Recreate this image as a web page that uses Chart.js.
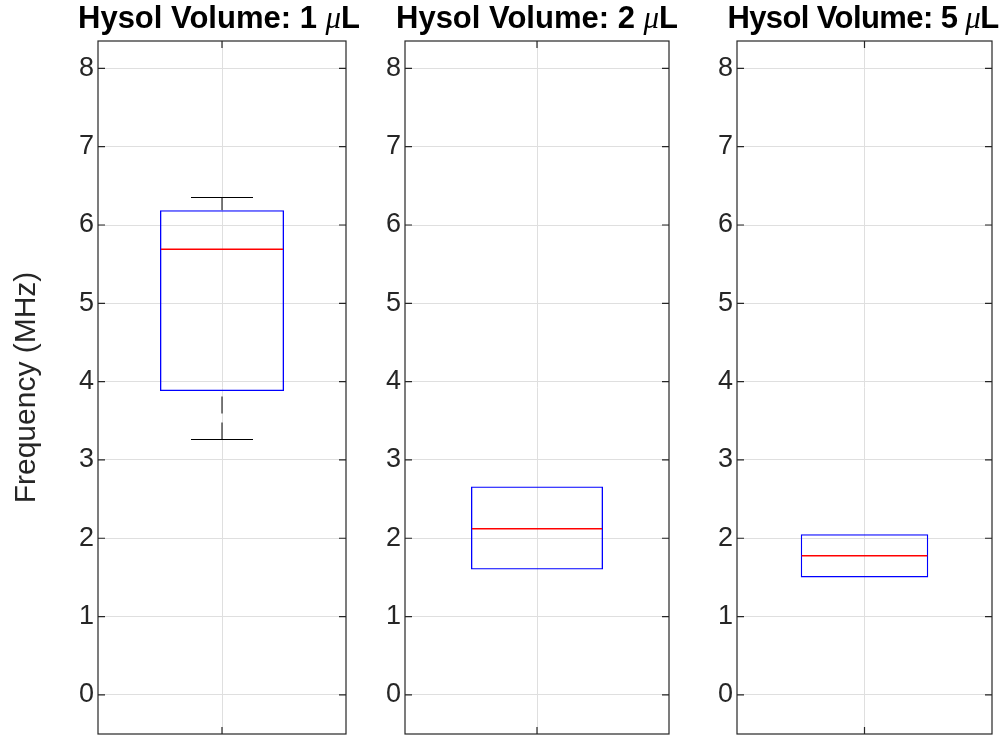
<!DOCTYPE html>
<html>
<head>
<meta charset="utf-8">
<script src="https://cdn.jsdelivr.net/npm/chart.js@4.4.1/dist/chart.umd.min.js"></script>
<style>
  body { margin: 0; background: #fff; width: 1007px; height: 738px; position: relative; overflow: hidden; font-family: Arial, "Liberation Sans", sans-serif; }
  canvas { position: absolute; top: 0; }
  .titulo { position: absolute; top: 2px; font-weight: bold; font-size: 31px; line-height: 31px; color: #000; white-space: nowrap; transform: translateX(-50%); }
  .titulo .mu { font-family: "Liberation Serif", serif; font-style: italic; font-weight: normal; }
</style>
</head>
<body>
<script>
// dados das caixas (MHz)
const volumes = ['1', '2', '5'];
const minimos = [3.27, 1.60, 1.50];
const quartil1 = [3.88, 1.60, 1.50];
const medianas = [5.69, 2.12, 1.775];
const quartil3 = [6.19, 2.66, 2.05];
const maximos = [6.36, 2.66, 2.05];
const yTicks = [0, 1, 2, 3, 4, 5, 6, 7, 8];
const yMin = -0.5;
const yMax = 8.35;

// posição de cada painel na página
const paineis = [
  { left: 0, eixo: 98, width: 352, centro: 219, espaco: 0 },
  { left: 365, eixo: 40, width: 310, centro: 537, espaco: 0 },
  { left: 697, eixo: 40, width: 301, centro: 863, espaco: -0.6 }
];

const corEixo = '#262626';
const corGrade = '#dfdfdf';
const fonte = 'Arial, "Liberation Sans", sans-serif';

// bigodes antes da caixa, mediana e moldura depois
const boxplot = {
  id: 'boxplot',
  beforeDatasetsDraw(chart, args, opts) {
    const i = opts.indice;
    const bar = chart.getDatasetMeta(0).data[0];
    const y = chart.scales.y;
    const ctx = chart.ctx;
    const meia = bar.width / 4;
    ctx.save();
    ctx.strokeStyle = '#000';
    ctx.lineWidth = 1;
    [[maximos[i], quartil3[i]], [minimos[i], quartil1[i]]].forEach(([ext, q]) => {
      if (ext === q) return;
      const yE = Math.round(y.getPixelForValue(ext)) + 0.5;
      const yQ = y.getPixelForValue(q);
      ctx.setLineDash([17, 9]);
      ctx.beginPath();
      ctx.moveTo(bar.x, yE);
      ctx.lineTo(bar.x, yQ);
      ctx.stroke();
      ctx.setLineDash([]);
      ctx.beginPath();
      ctx.moveTo(bar.x - meia, yE);
      ctx.lineTo(bar.x + meia, yE);
      ctx.stroke();
    });
    ctx.restore();
  },
  afterDatasetsDraw(chart, args, opts) {
    const i = opts.indice;
    const bar = chart.getDatasetMeta(0).data[0];
    const y = chart.scales.y;
    const ctx = chart.ctx;
    const yM = y.getPixelForValue(medianas[i]);
    ctx.save();
    ctx.strokeStyle = '#ff0000';
    ctx.lineWidth = 1.5;
    ctx.beginPath();
    ctx.moveTo(bar.x - bar.width / 2 + 1, yM);
    ctx.lineTo(bar.x + bar.width / 2 - 1, yM);
    ctx.stroke();
    ctx.restore();
  },
  afterDraw(chart) {
    const a = chart.chartArea;
    const ctx = chart.ctx;
    const y = chart.scales.y;
    const x = chart.scales.x;
    const tam = 7;
    ctx.save();
    ctx.strokeStyle = corEixo;
    ctx.lineWidth = 1.2;
    ctx.strokeRect(a.left, a.top, a.right - a.left, a.bottom - a.top);
    ctx.beginPath();
    yTicks.forEach(v => {
      const py = y.getPixelForValue(v);
      ctx.moveTo(a.left, py); ctx.lineTo(a.left + tam, py);
      ctx.moveTo(a.right, py); ctx.lineTo(a.right - tam, py);
    });
    const px = x.getPixelForValue(0);
    ctx.moveTo(px, a.top); ctx.lineTo(px, a.top + tam);
    ctx.moveTo(px, a.bottom); ctx.lineTo(px, a.bottom - tam);
    ctx.stroke();
    ctx.restore();
  }
};

paineis.forEach((p, i) => {
  const canvas = document.createElement('canvas');
  canvas.width = p.width;
  canvas.height = 738;
  canvas.style.left = p.left + 'px';
  document.body.appendChild(canvas);

  const titulo = document.createElement('div');
  titulo.className = 'titulo';
  titulo.style.left = p.centro + 'px';
  titulo.style.letterSpacing = p.espaco + 'px';
  titulo.innerHTML = 'Hysol Volume: ' + volumes[i] + ' <span class="mu">μ</span>L';
  document.body.appendChild(titulo);

  new Chart(canvas, {
    type: 'bar',
    data: {
      labels: [volumes[i]],
      datasets: [{
        data: [[quartil1[i], quartil3[i]]],
        backgroundColor: 'rgba(0,0,0,0)',
        borderColor: '#0000ff',
        borderWidth: 1.3,
        borderSkipped: false,
        barPercentage: 0.5,
        categoryPercentage: 1
      }]
    },
    options: {
      responsive: false,
      animation: false,
      layout: { padding: { top: 41, bottom: 4, right: 6, left: 0 } },
      plugins: {
        legend: { display: false },
        tooltip: { enabled: false },
        boxplot: { indice: i }
      },
      scales: {
        x: {
          grid: { offset: false, color: corGrade, drawTicks: false },
          border: { display: false },
          ticks: { display: false },
          afterFit: s => { s.height = 0; s.paddingLeft = 0; s.paddingRight = 0; }
        },
        y: {
          min: yMin,
          max: yMax,
          afterBuildTicks: s => { s.ticks = yTicks.map(v => ({ value: v })); },
          grid: { color: corGrade, drawTicks: false },
          border: { display: false },
          ticks: { font: { family: fonte, size: 27 }, color: corEixo, padding: 4 },
          title: {
            display: i === 0,
            text: 'Frequency (MHz)',
            font: { family: fonte, size: 30 },
            color: corEixo,
            padding: { top: 9, bottom: 0 }
          },
          afterFit: s => { s.width = p.eixo; s.paddingTop = 0; s.paddingBottom = 0; }
        }
      }
    },
    plugins: [boxplot]
  });
});
</script>
</body>
</html>
